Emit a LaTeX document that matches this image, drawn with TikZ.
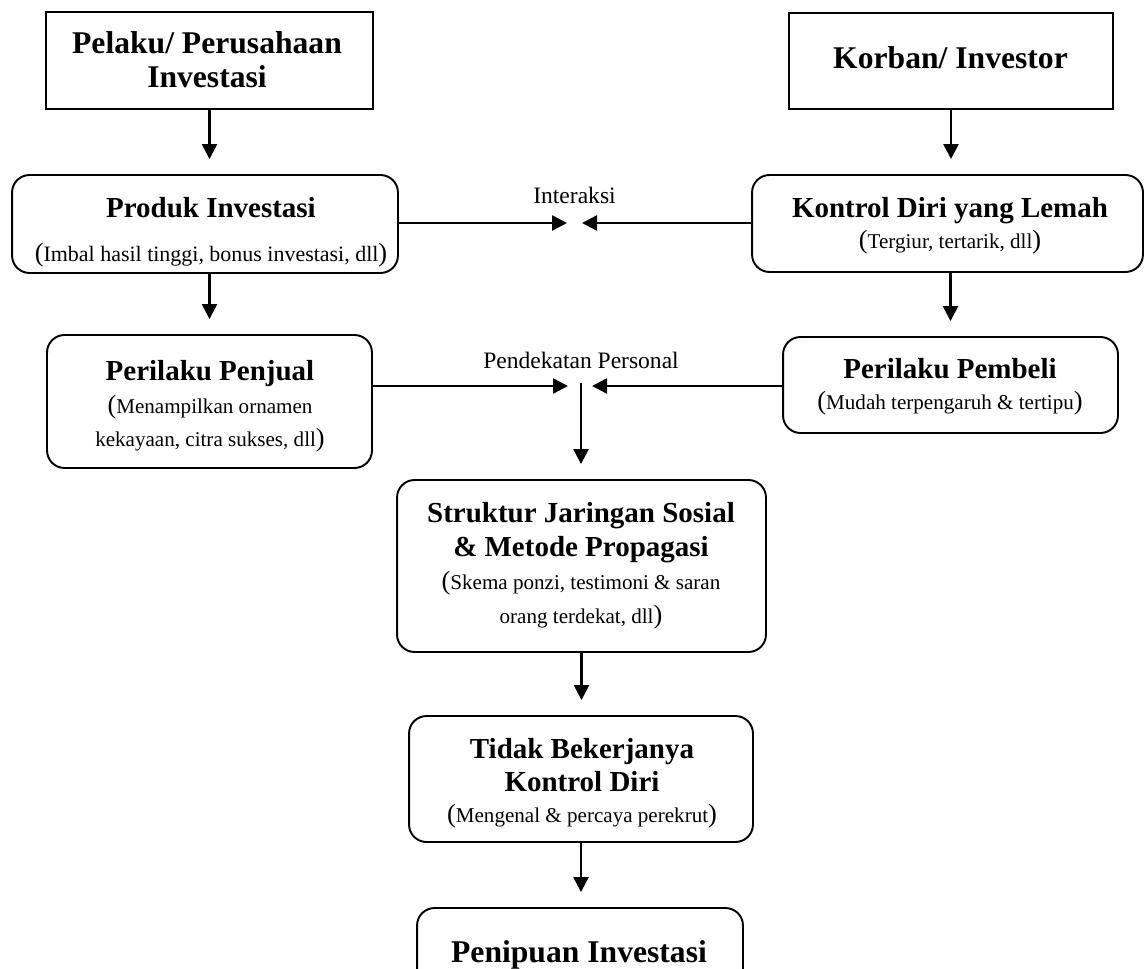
\documentclass[tikz,border=0pt]{standalone}
\usepackage{fontspec}
\setmainfont{Liberation Serif}
\usetikzlibrary{arrows.meta}
\newcommand{\ttlA}{\fontsize{18}{19}\selectfont\bfseries}
\newcommand{\ttlB}{\fontsize{16.5}{19}\selectfont\bfseries}
\newcommand{\lp}{{\fontsize{15}{19}\selectfont(}}
\newcommand{\rp}{{\fontsize{15}{19}\selectfont)}}
\begin{document}
\begin{tikzpicture}[x=0.02cm,y=-0.02cm,
  box/.style={draw, line width=1.1pt, inner sep=0pt},
  rbox/.style={box, rounded corners=0.35cm},
  txt/.style={align=center, inner sep=0pt, font=\fontsize{12}{19}\selectfont},
  lbl/.style={inner sep=0pt, font=\fontsize{13.4}{16}\selectfont},
  arr/.style={line width=1.4pt, -{Triangle[length=0.3cm,width=0.3cm]}, shorten >=0.3cm},
]
\useasboundingbox (0,0) rectangle (1145,969);

% boxes
\node[box,  minimum width=6.54cm, minimum height=1.94cm] (pelaku)   at (209.5,60.5) {};
\node[box,  minimum width=6.48cm, minimum height=1.92cm] (korban)   at (951,61) {};
\node[rbox, minimum width=7.72cm, minimum height=1.96cm] (produk)   at (205,224) {};
\node[rbox, minimum width=7.82cm, minimum height=1.94cm] (kontrol)  at (947.5,223.5) {};
\node[rbox, minimum width=6.50cm, minimum height=2.66cm] (penjual)  at (209.5,401.5) {};
\node[rbox, minimum width=6.70cm, minimum height=1.92cm] (pembeli)  at (950.5,385) {};
\node[rbox, minimum width=7.38cm, minimum height=3.44cm] (struktur) at (581.5,566) {};
\node[rbox, minimum width=6.88cm, minimum height=2.52cm] (tidak)    at (581,779) {};
\node[rbox, minimum width=6.52cm, minimum height=2.00cm] (penipuan) at (580,958) {};

% texts
\node[txt] (pelakuT) at (207,59.7) {{\ttlA Pelaku/ Perusahaan}\\[0.85pt]{\ttlA Investasi}};
\node[txt] (korbanT) at (950.5,58) {{\ttlA Korban/ Investor}};
\node[txt] (produkT) at (211,232.2) {{\ttlB Produk Investasi}\\[6.5pt]\lp{\fontsize{12.5}{19}\selectfont Imbal hasil tinggi, bonus investasi, dll}\rp};
\node[txt] (kontrolT) at (950,225.7) {{\ttlB Kontrol Diri yang Lemah}\\[-0.9pt]\lp Tergiur, tertarik, dll\rp};
\node[txt] (penjualT) at (210,406.2) {{\ttlB Perilaku Penjual}\\\lp Menampilkan ornamen\\kekayaan, citra sukses, dll\rp};
\node[txt] (pembeliT) at (950,386.7) {{\ttlB Perilaku Pembeli}\\[-0.9pt]\lp Mudah terpengaruh \& tertipu\rp};
\node[txt] (strukturT) at (581,565.7) {{\ttlB Struktur Jaringan Sosial}\\{\ttlB \& Metode Propagasi}\\\lp Skema ponzi, testimoni \& saran\\orang terdekat, dll\rp};
\node[txt] (tidakT) at (582,783.2) {{\ttlB Tidak Bekerjanya}\\{\ttlB Kontrol Diri}\\[-1.4pt]\lp Mengenal \& percaya perekrut\rp};
\node[txt] (penipuanT) at (579,954.6) {{\ttlA Penipuan Investasi}};

% labels
\node[lbl] (interL) at (574.5,195.5) {Interaksi};
\node[lbl] (pendL) at (581,360) {Pendekatan Personal};

% connectors
\coordinate (interC) at (574.5,223);
\draw[arr, shorten >=0.15cm] (produk.east |- interC) -- (interC);
\draw[arr, shorten >=0.15cm] (kontrol.west |- interC) -- (interC);
\coordinate (pendC) at (580,386);
\draw[arr, shorten >=0.24cm] (penjual.east |- pendC) -- (pendC);
\draw[arr, shorten >=0.24cm] (pembeli.west |- pendC) -- (pendC);
\coordinate (pendV) at (581,383);
\draw[arr] (pendV) -- (pendV |- struktur.north);

\draw[arr] (pelaku.south) -- (pelaku.south |- produk.north);
\draw[arr] (produk.south -| penjual.north) -- (penjual.north);
\draw[arr] (korban.south) -- (korban.south |- kontrol.north);
\draw[arr] (kontrol.south -| pembeli.north) -- (pembeli.north);
\draw[arr] (struktur.south) -- (struktur.south |- tidak.north);
\draw[arr] (tidak.south) -- (tidak.south |- penipuan.north);
\end{tikzpicture}
\end{document}
